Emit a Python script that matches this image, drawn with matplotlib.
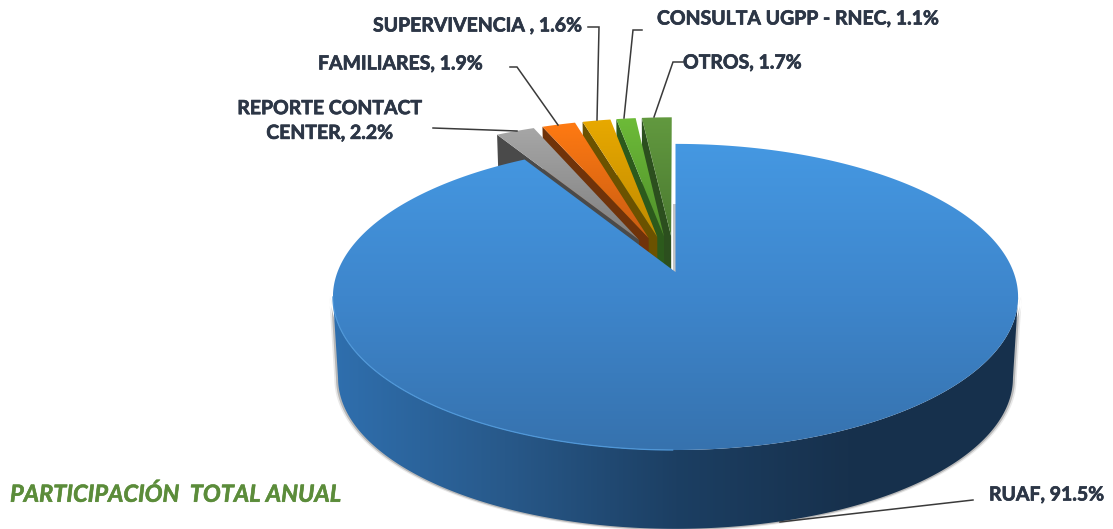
import numpy as np
import matplotlib
matplotlib.use("Agg")
import matplotlib.pyplot as plt
import matplotlib.patheffects as pe
from matplotlib.colors import LinearSegmentedColormap
from matplotlib.patches import Polygon

# Datos del grafico
names = ["RUAF", "REPORTE CONTACT\nCENTER", "FAMILIARES", "SUPERVIVENCIA ", "CONSULTA UGPP - RNEC", "OTROS"]
values = [91.5, 2.2, 1.9, 1.6, 1.1, 1.7]
title = "PARTICIPACIÓN  TOTAL ANUAL"

# Colores de cada porcion: cara superior (arriba, abajo) y pared
top_colors = [None, ("#a6a6a6", "#7f7f7f"), ("#ff7a12", "#c95c12"), ("#e8a900", "#c08a00"),
              ("#6dbb38", "#4f8f2b"), ("#62993f", "#4b7a31")]
wall_colors = [None, "#4a4a4a", "#70330a", "#6b5200", "#2c5a1c", "#2c4f1e"]
side_colors = ["#2f6fae", "#28598a", "#1c3f63", "#17314d", "#16304c"]

# Proyeccion del disco con perspectiva, en pixeles
cx, cy = 675.5, 272
sx, sy, persp = 338, 149, 0.163
drop, shrink = 81.5, 0.985
explode = 0.25

fig = plt.figure(figsize=(11.13, 5.29), dpi=100)
ax = fig.add_axes([0, 0, 1, 1])
ax.set_xlim(0, 1113)
ax.set_ylim(529, 0)
ax.axis("off")


def project(x, y, low=False):
    w = 1 + persp * y
    if low:
        return cx + shrink * sx * x / w, cy + drop - shrink * sy * y / w
    return cx + sx * x / w, cy - sy * y / w


def rim(a0, a1, off=(0, 0), low=False, n=200):
    t = np.radians(np.linspace(a0, a1, n))
    px, py = project(off[0] + np.cos(t), off[1] + np.sin(t), low)
    return np.column_stack([px, py])


def grad_fill(points, colors, z, horizontal=False):
    cmap = LinearSegmentedColormap.from_list("g", colors)
    ramp = np.linspace(0, 1, 256)
    ramp = ramp[None, :] if horizontal else ramp[:, None]
    x0, y0 = points.min(axis=0)
    x1, y1 = points.max(axis=0)
    im = ax.imshow(ramp, cmap=cmap, extent=(x0, x1, y1, y0), aspect="auto", zorder=z, interpolation="bilinear")
    im.set_clip_path(Polygon(points, closed=True, transform=ax.transData))


# Angulos de las porciones, en sentido horario desde arriba
ends = 90 - np.cumsum(values) * 3.6
starts = np.concatenate([[90], ends[:-1]])

# Porciones separadas: de derecha a izquierda para que se tapen bien
z = 5
for i in range(len(values) - 1, 0, -1):
    a0, a1 = ends[i] % 360, starts[i] % 360
    if a0 > a1:
        a0 -= 360
    mid = np.radians((a0 + a1) / 2)
    off = (explode * np.cos(mid), explode * np.sin(mid))
    # el angulo mayor es el borde izquierdo de la porcion
    corner = (off[0] + np.cos(np.radians(a1)), off[1] + np.sin(np.radians(a1)))
    edge_a = project(off[0], off[1])
    edge_b = project(*corner)
    low_a = project(off[0], off[1], True)
    low_b = project(*corner, True)
    ax.fill([edge_a[0], edge_b[0], low_b[0], low_a[0]], [edge_a[1], edge_b[1], low_b[1], low_a[1]],
            color=wall_colors[i], lw=0, zorder=z)
    z += 1
    face = np.vstack([[edge_a], rim(a0, a1, off, n=30)])
    grad_fill(face, top_colors[i], z)
    z += 1

# Pared interior clara de la porcion grande
back = project(0, 1)
tip = project(0, 0)
ax.fill([back[0] - 3, back[0], back[0], back[0] - 3], [back[1] + 60, back[1] + 60, tip[1] + 40, tip[1] + 40],
        color="#c4c4c4", lw=0, zorder=z)
z += 1

# Sombra y pared exterior de la porcion grande
edge_t = np.degrees(np.arcsin(persp))
wall_top = rim(180 + edge_t, 360 - edge_t)
wall_low = rim(180 + edge_t, 360 - edge_t, low=True)
wall = np.vstack([wall_top, wall_low[::-1]])
for grow, shade in [(1.011, "#e8e8e8"), (1.006, "#b8b8b8")]:
    ax.fill(cx + (wall[:, 0] - cx) * grow, cy + 60 + (wall[:, 1] - cy - 60) * grow, color=shade, lw=0, zorder=z)
    z += 1
grad_fill(wall, side_colors, z, horizontal=True)
z += 1

# Cara superior de la porcion grande
main_a0 = ends[0] % 360 - 360
face = np.vstack([[project(0, 0)], rim(main_a0, 90, n=500)])
grad_fill(face, ["#4598e2", "#3e86cc", "#3672ae"], z)
z += 1
ax.plot(wall_top[:100, 0], wall_top[:100, 1], color="#4f97d8", lw=0.9, zorder=z)
z += 1

# Lineas guia
line_c = "#3a3a3a"
leaders = [
    ([973, 780], [500, 522]),
    ([433, 517], [128, 131]),
    ([510, 517, 558], [67, 67, 125]),
    ([588, 599, 597], [27, 27, 120]),
    ([642, 633, 624], [30, 30, 118]),
    ([683, 673, 654], [62, 62, 117]),
]
for lx, ly in leaders:
    ax.plot(lx, ly, color=line_c, lw=1.1, zorder=z, solid_joinstyle="miter")
z += 1

# Etiquetas
label_pos = [(989, 495, "left"), (330, 121, "center"), (318, 64, "left"),
             (373, 26, "left"), (657, 19, "left"), (683, 63, "left")]
text_c = "#2c3646"
for name, val, (tx, ty, ha) in zip(names, values, label_pos):
    ax.text(tx, ty, f"{name}, {val}%", ha=ha, va="center", ma="center", fontsize=14,
            fontweight="bold", family="Lato", color=text_c, linespacing=1.55, zorder=z,
            path_effects=[pe.withStroke(linewidth=0.5, foreground=text_c)])

ax.text(10, 494, title, ha="left", va="center", fontsize=17, fontweight="bold", style="italic",
        family="Lato", color="#5b8c3a", zorder=z,
        path_effects=[pe.withStroke(linewidth=0.4, foreground="#5b8c3a")])

ax.set_xlim(0, 1113)
ax.set_ylim(529, 0)
fig.savefig("out.png", dpi=100, facecolor="white")
